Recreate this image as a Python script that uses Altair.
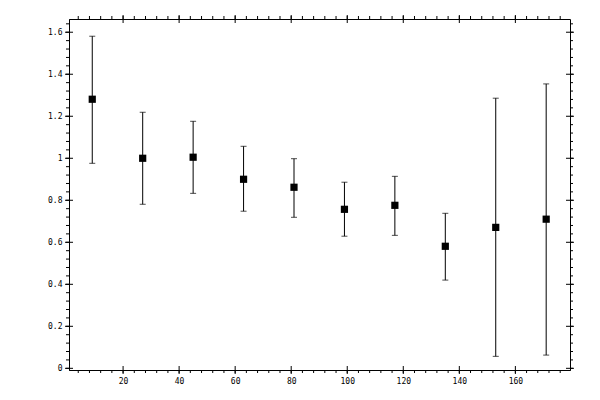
import altair as alt
import numpy as np
import pandas as pd

# data
xs = [9, 27, 45, 63, 81, 99, 117, 135, 153, 171]
ys = [1.281, 1.000, 1.005, 0.900, 0.862, 0.757, 0.776, 0.581, 0.671, 0.710]
lo = [0.976, 0.781, 0.833, 0.748, 0.719, 0.629, 0.633, 0.420, 0.057, 0.063]
hi = [1.581, 1.219, 1.176, 1.057, 0.998, 0.886, 0.914, 0.738, 1.286, 1.354]

x_major = [20, 40, 60, 80, 100, 120, 140, 160]
y_major = [0, 0.2, 0.4, 0.6, 0.8, 1.0, 1.2, 1.4, 1.6]
x_minor = [round(v, 3) for v in np.arange(4, 180, 4)]
y_minor = [round(v, 3) for v in np.arange(0, 1.661, 0.04)]

W, H = 501, 351
XDOM = [0.7, 179.5]
YDOM = [-0.008, 1.663]

df = pd.DataFrame({"x": xs, "y": ys, "lo": lo, "hi": hi})
dxM = pd.DataFrame({"v": x_major})
dxm = pd.DataFrame({"v": x_minor})
dyM = pd.DataFrame({"v": y_major})
dym = pd.DataFrame({"v": y_minor})

xsc = alt.Scale(domain=XDOM, nice=False, zero=False)
ysc = alt.Scale(domain=YDOM, nice=False, zero=False)

xax = alt.Axis(values=x_major, ticks=False, grid=False, domain=True, labelPadding=7,
               format="~r", title=None)
yax = alt.Axis(values=y_major, ticks=False, grid=False, domain=True, labelPadding=7,
               format="~r", title=None)

base = alt.Chart(df)

bars = base.mark_rule(color="black", strokeWidth=1).encode(
    x=alt.X("x:Q", scale=xsc, axis=xax),
    y=alt.Y("lo:Q", scale=ysc, axis=yax),
    y2="hi:Q",
)
cap_lo = base.mark_tick(color="black", orient="horizontal", size=6, thickness=1).encode(
    x=alt.X("x:Q", scale=xsc), y=alt.Y("lo:Q", scale=ysc)
)
cap_hi = base.mark_tick(color="black", orient="horizontal", size=6, thickness=1).encode(
    x=alt.X("x:Q", scale=xsc), y=alt.Y("hi:Q", scale=ysc)
)
pts = base.mark_square(color="black", size=52, opacity=1, filled=True).encode(
    x=alt.X("x:Q", scale=xsc), y=alt.Y("y:Q", scale=ysc)
)

def xt(d, y1, y2):
    return alt.Chart(d).mark_rule(color="black", strokeWidth=1).encode(
        x=alt.X("v:Q", scale=xsc), y=alt.value(y1), y2=alt.value(y2))

def yt(d, x1, x2):
    return alt.Chart(d).mark_rule(color="black", strokeWidth=1).encode(
        y=alt.Y("v:Q", scale=ysc), x=alt.value(x1), x2=alt.value(x2))

ticks = [
    xt(dxm, H, H + 3), xt(dxM, H - 4, H + 4),
    xt(dxm, -3, 0), xt(dxM, -4, 4),
    yt(dym, -3, 0), yt(dyM, -4, 4),
    yt(dym, W, W + 3), yt(dyM, W - 4, W + 4),
]

chart = alt.layer(bars, cap_lo, cap_hi, pts, *ticks).properties(
    width=W, height=H,
    autosize=alt.AutoSizeParams(type="none"),
    padding={"left": 61, "top": 11, "right": 20, "bottom": 20},
    background="white",
).configure_view(stroke="black", strokeWidth=1).configure_axis(
    domainColor="black", domainWidth=1, labelColor="black",
    labelFont="DejaVu Sans Mono", labelFontSize=8,
)

chart.save("out.html", embed_options={"renderer": "svg", "actions": False})
